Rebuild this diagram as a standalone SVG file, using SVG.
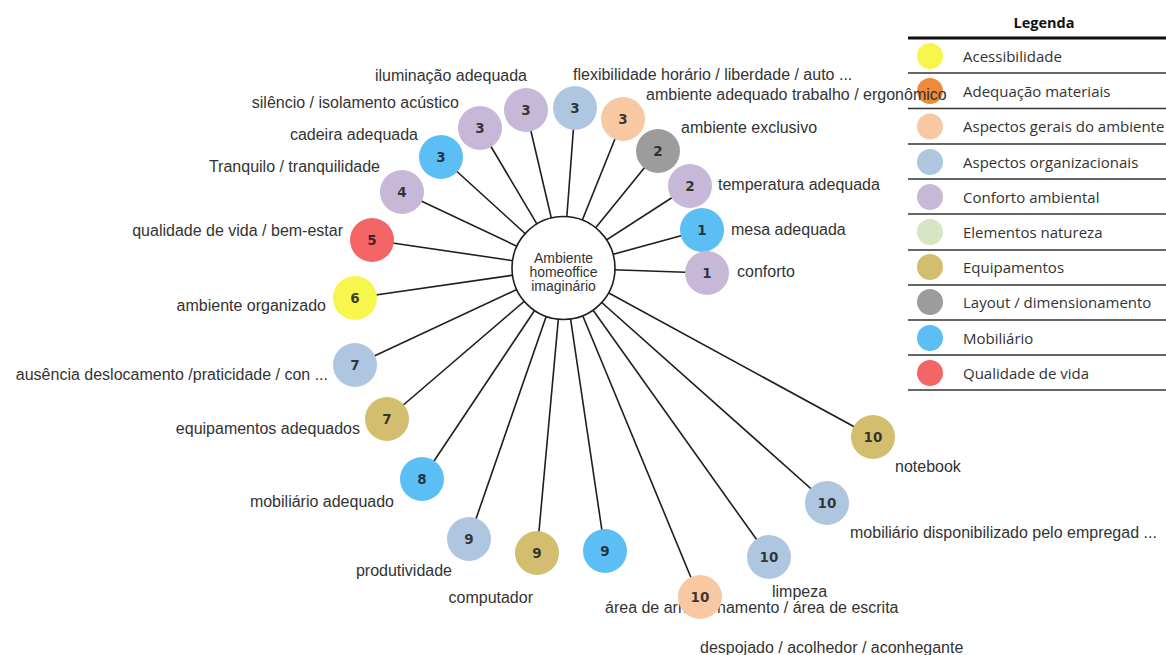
<svg xmlns="http://www.w3.org/2000/svg" width="1166" height="655" viewBox="0 0 1166 655">
  <style>
    .lbl { font-family: "Liberation Sans", Arial, sans-serif; font-size: 16px; fill: #333; }
    .end { text-anchor: end; }
    .hub { font-family: "Liberation Sans", Arial, sans-serif; font-size: 14px; fill: #333; text-anchor: middle; }
    .num { font-family: "DejaVu Sans", Verdana, sans-serif; font-size: 13.5px; font-weight: bold; fill: #1a1a1a; fill-opacity: 0.85; text-anchor: middle; }
    .leg { font-family: "Open Sans", "Noto Sans", sans-serif; font-size: 15px; fill: #333; }
    .legtitle { font-family: "Open Sans", "Noto Sans", sans-serif; font-size: 14.5px; font-weight: bold; fill: #111; text-anchor: middle; }
    .sep { stroke: #333; stroke-width: 1.6; }
    .conn line { stroke: #1e1e1e; stroke-width: 1.6; }
    .c-acess { fill: #F8F54C; }
    .c-mat { fill: #EE8A3A; }
    .c-ger { fill: #F8C8A2; }
    .c-org { fill: #AFC6E1; }
    .c-conf { fill: #C8B8D8; }
    .c-nat { fill: #D6E5C4; }
    .c-equip { fill: #D3BD6F; }
    .c-lay { fill: #9C9C9C; }
    .c-mob { fill: #5BBEF5; }
    .c-qv { fill: #F46565; }
  </style>

  <rect width="1166" height="655" fill="#fff"/>

  <!-- Legend -->
  <g id="legend">
    <text class="legtitle" x="1044" y="28">Legenda</text>
    <line x1="908" y1="38" x2="1166" y2="38" stroke="#111" stroke-width="3"/>
    <circle class="c-acess" cx="930" cy="56" r="13"/>
    <text class="leg" x="963" y="61.5">Acessibilidade</text>
    <line class="sep" x1="908" y1="73" x2="1166" y2="73"/>
    <circle class="c-mat" cx="930" cy="91" r="13"/>
    <text class="leg" x="963" y="96.5">Adequação materiais</text>
    <line class="sep" x1="908" y1="108.5" x2="1166" y2="108.5"/>
    <circle class="c-ger" cx="930" cy="126.5" r="13"/>
    <text class="leg" x="963" y="132">Aspectos gerais do ambiente</text>
    <line class="sep" x1="908" y1="144" x2="1166" y2="144"/>
    <circle class="c-org" cx="930" cy="162" r="13"/>
    <text class="leg" x="963" y="167.5">Aspectos organizacionais</text>
    <line class="sep" x1="908" y1="179" x2="1166" y2="179"/>
    <circle class="c-conf" cx="930" cy="197" r="13"/>
    <text class="leg" x="963" y="202.5">Conforto ambiental</text>
    <line class="sep" x1="908" y1="214" x2="1166" y2="214"/>
    <circle class="c-nat" cx="930" cy="232" r="13"/>
    <text class="leg" x="963" y="237.5">Elementos natureza</text>
    <line class="sep" x1="908" y1="250" x2="1166" y2="250"/>
    <circle class="c-equip" cx="930" cy="267" r="13"/>
    <text class="leg" x="963" y="272.5">Equipamentos</text>
    <line class="sep" x1="908" y1="285" x2="1166" y2="285"/>
    <circle class="c-lay" cx="930" cy="302" r="13"/>
    <text class="leg" x="963" y="307.5">Layout / dimensionamento</text>
    <line class="sep" x1="908" y1="320" x2="1166" y2="320"/>
    <circle class="c-mob" cx="930" cy="338" r="13"/>
    <text class="leg" x="963" y="343.5">Mobiliário</text>
    <line class="sep" x1="908" y1="355" x2="1166" y2="355"/>
    <circle class="c-qv" cx="930" cy="373" r="13"/>
    <text class="leg" x="963" y="378.5">Qualidade de vida</text>
    <line class="sep" x1="908" y1="390" x2="1166" y2="390"/>
  </g>

  <!-- Connectors: hub to each item -->
  <g id="connectors" class="conn">
    <line x1="563" y1="268" x2="526" y2="110"/>
    <line x1="563" y1="268" x2="480" y2="128"/>
    <line x1="563" y1="268" x2="575" y2="108"/>
    <line x1="563" y1="268" x2="623" y2="119"/>
    <line x1="563" y1="268" x2="441" y2="157"/>
    <line x1="563" y1="268" x2="402" y2="192"/>
    <line x1="563" y1="268" x2="658" y2="151"/>
    <line x1="563" y1="268" x2="690" y2="186"/>
    <line x1="563" y1="268" x2="702" y2="230"/>
    <line x1="563" y1="268" x2="707" y2="273"/>
    <line x1="563" y1="268" x2="372" y2="240"/>
    <line x1="563" y1="268" x2="355" y2="298"/>
    <line x1="563" y1="268" x2="355" y2="365"/>
    <line x1="563" y1="268" x2="387" y2="419"/>
    <line x1="563" y1="268" x2="422" y2="479"/>
    <line x1="563" y1="268" x2="469" y2="539"/>
    <line x1="563" y1="268" x2="537" y2="553"/>
    <line x1="563" y1="268" x2="605" y2="551"/>
    <line x1="563" y1="268" x2="699" y2="597"/>
    <line x1="563" y1="268" x2="769" y2="557"/>
    <line x1="563" y1="268" x2="827" y2="503"/>
    <line x1="563" y1="268" x2="873" y2="437"/>
  </g>

  <!-- Item labels (drawn beneath the item circles) -->
  <g id="labels">
    <text class="lbl end" x="527" y="81">iluminação adequada</text>
    <text class="lbl end" x="459" y="108">silêncio / isolamento acústico</text>
    <text class="lbl end" x="418" y="140">cadeira adequada</text>
    <text class="lbl end" x="380" y="172">Tranquilo / tranquilidade</text>
    <text class="lbl end" x="343" y="236">qualidade de vida / bem-estar</text>
    <text class="lbl end" x="326" y="311">ambiente organizado</text>
    <text class="lbl end" x="328" y="380">ausência deslocamento /praticidade / con ...</text>
    <text class="lbl end" x="360" y="434">equipamentos adequados</text>
    <text class="lbl end" x="394" y="507">mobiliário adequado</text>
    <text class="lbl end" x="452" y="576">produtividade</text>
    <text class="lbl end" x="533" y="603">computador</text>
    <text class="lbl" x="573" y="80">flexibilidade horário / liberdade / auto ...</text>
    <text class="lbl" x="646" y="100">ambiente adequado trabalho / ergonômico</text>
    <text class="lbl" x="681" y="133">ambiente exclusivo</text>
    <text class="lbl" x="718" y="190">temperatura adequada</text>
    <text class="lbl" x="731" y="235">mesa adequada</text>
    <text class="lbl" x="737" y="277">conforto</text>
    <text class="lbl" x="895" y="472">notebook</text>
    <text class="lbl" x="850" y="538">mobiliário disponibilizado pelo empregad ...</text>
    <text class="lbl" x="772" y="597">limpeza</text>
    <text class="lbl" x="605" y="613">área de armazenamento / área de escrita</text>
    <text class="lbl" x="700" y="653">despojado / acolhedor / aconhegante</text>
  </g>

  <!-- Hub -->
  <g id="hub">
    <circle cx="563.5" cy="268" r="51.5" fill="#fff" stroke="#1e1e1e" stroke-width="1.6"/>
    <text class="hub" x="563.5" y="263">Ambiente</text>
    <text class="hub" x="563.5" y="277">homeoffice</text>
    <text class="hub" x="563.5" y="291">imaginário</text>
  </g>

  <!-- Items -->
  <g id="n-iluminacao"><circle class="c-conf" cx="526" cy="110" r="22"/><text class="num" x="526" y="115">3</text></g>
  <g id="n-silencio"><circle class="c-conf" cx="480" cy="128" r="22"/><text class="num" x="480" y="133">3</text></g>
  <g id="n-flexibilidade"><circle class="c-org" cx="575" cy="108" r="22"/><text class="num" x="575" y="113">3</text></g>
  <g id="n-ergonomico"><circle class="c-ger" cx="623" cy="119" r="22"/><text class="num" x="623" y="124">3</text></g>
  <g id="n-cadeira"><circle class="c-mob" cx="441" cy="157" r="22"/><text class="num" x="441" y="162">3</text></g>
  <g id="n-tranquilo"><circle class="c-conf" cx="402" cy="192" r="22"/><text class="num" x="402" y="197">4</text></g>
  <g id="n-exclusivo"><circle class="c-lay" cx="658" cy="151" r="22"/><text class="num" x="658" y="156">2</text></g>
  <g id="n-temperatura"><circle class="c-conf" cx="690" cy="186" r="22"/><text class="num" x="690" y="191">2</text></g>
  <g id="n-mesa"><circle class="c-mob" cx="702" cy="230" r="22"/><text class="num" x="702" y="235">1</text></g>
  <g id="n-conforto"><circle class="c-conf" cx="707" cy="273" r="22"/><text class="num" x="707" y="278">1</text></g>
  <g id="n-qualidade"><circle class="c-qv" cx="372" cy="240" r="22"/><text class="num" x="372" y="245">5</text></g>
  <g id="n-organizado"><circle class="c-acess" cx="355" cy="298" r="22"/><text class="num" x="355" y="303">6</text></g>
  <g id="n-ausencia"><circle class="c-org" cx="355" cy="365" r="22"/><text class="num" x="355" y="370">7</text></g>
  <g id="n-equipamentos"><circle class="c-equip" cx="387" cy="419" r="22"/><text class="num" x="387" y="424">7</text></g>
  <g id="n-mobiliario"><circle class="c-mob" cx="422" cy="479" r="22"/><text class="num" x="422" y="484">8</text></g>
  <g id="n-produtividade"><circle class="c-org" cx="469" cy="539" r="22"/><text class="num" x="469" y="544">9</text></g>
  <g id="n-computador"><circle class="c-equip" cx="537" cy="553" r="22"/><text class="num" x="537" y="558">9</text></g>
  <g id="n-mob9"><circle class="c-mob" cx="605" cy="551" r="22"/><text class="num" x="605" y="556">9</text></g>
  <g id="n-despojado"><circle class="c-ger" cx="700" cy="597" r="22"/><text class="num" x="700" y="602">10</text></g>
  <g id="n-limpeza"><circle class="c-org" cx="769" cy="557" r="22"/><text class="num" x="769" y="562">10</text></g>
  <g id="n-mobdisp"><circle class="c-org" cx="827" cy="503" r="22"/><text class="num" x="827" y="508">10</text></g>
  <g id="n-notebook"><circle class="c-equip" cx="873" cy="437" r="22"/><text class="num" x="873" y="442">10</text></g>
</svg>
